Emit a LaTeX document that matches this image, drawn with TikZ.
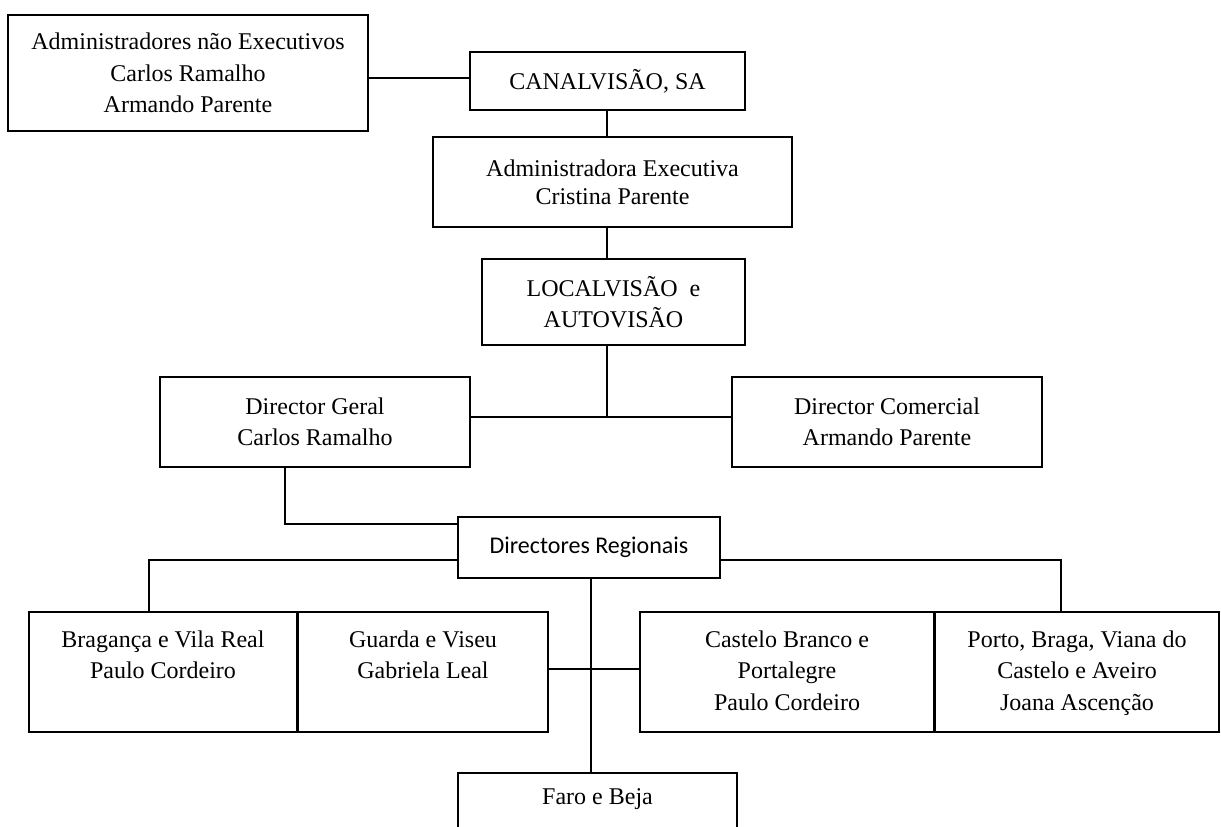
\documentclass[tikz,border=0pt]{standalone}
\usepackage{fontspec}
\setmainfont{Liberation Serif}
\setsansfont{Carlito}
\usetikzlibrary{calc}
\tikzset{
  every picture/.style={line width=1pt},
  box/.style={draw, inner sep=0pt, align=center, font=\fontsize{12}{15.75}\selectfont},
  frame/.style={draw, inner sep=0pt},
  txt/.style={inner sep=0pt, align=center, anchor=north, font=\fontsize{12}{15.75}\selectfont},
  link/.style={line width=0.9pt},
}

\begin{document}
\begin{tikzpicture}[x=0.5pt, y=-0.5pt]
  \useasboundingbox (0,0) rectangle (1221,826);
  \clip (0,0) rectangle (1221,826);
  \node[box, minimum width=180pt, minimum height=58pt] (adm) at (188,73) {Administradores não Executivos\\Carlos Ramalho\\Armando Parente};
  \node[box, minimum width=137.5pt, minimum height=29pt] (canal) at (607.5,81) {CANALVISÃO, SA};
  \node[box, minimum width=179.5pt, minimum height=45pt, font=\fontsize{12}{14}\selectfont] (exec) at (612.5,182) {Administradora Executiva\\Cristina Parente};
  \node[box, minimum width=131.5pt, minimum height=43pt] (local) at (613.5,302) {LOCALVISÃO~ e\\AUTOVISÃO};
  \node[box, minimum width=155pt, minimum height=45pt] (dg) at (315,422) {Director Geral\\Carlos Ramalho};
  \node[box, minimum width=155pt, minimum height=45pt] (dc) at (887,422) {Director Comercial\\Armando Parente};
  \node[box, minimum width=131pt, minimum height=30.5pt, font=\sffamily\fontsize{12}{15}\selectfont] (dirreg) at (589,547.5) {Directores Regionais};
  \foreach \n/\cx/\w/\t in {bv/163/134.25/{Bragança e Vila Real\\Paulo Cordeiro},
      gv/423/125.25/{Guarda e Viseu\\Gabriela Leal},
      cb/787/147.25/{Castelo Branco e\\Portalegre\\Paulo Cordeiro},
      pb/1077/142.25/{Porto, Braga, Viana do\\Castelo e Aveiro\\Joana Ascenção}} {
    \node[frame, minimum width=\w pt, minimum height=60pt] (\n) at (\cx,672) {};
    \node[txt] (\n-t) at ([yshift=-9.3pt]\n.north) {\t};
  }
  \node[frame, minimum width=139.5pt, minimum height=45pt] (faro) at (597.5,818) {};
  \node[txt] (faro-t) at ([yshift=-8pt]faro.north) {Faro e Beja};

  \coordinate (j0) at (0,78);
  \draw[link] (adm.east |- j0) -- (canal.west |- j0);
  \coordinate (v) at (607,0);
  \draw[link] (canal.south -| v) -- (exec.north -| v);
  \draw[link] (exec.south -| v) -- (local.north -| v);
  \coordinate (j1) at (607,417);
  \draw[link] (local.south -| j1) -- (j1);
  \draw[link] (dg.east |- j1) -- (dc.west |- j1);
  \coordinate (j2) at (285,524);
  \draw[link] (dg.south -| j2) -- (j2) -- (dirreg.west |- j2);
  \coordinate (j3) at (149,560);
  \coordinate (j4) at (1061,560);
  \draw[link] (dirreg.west |- j3) -- (j3) -- (j3 |- bv.north);
  \draw[link] (dirreg.east |- j4) -- (j4) -- (j4 |- pb.north);
  \coordinate (j5) at (591,669);
  \draw[link] (dirreg.south -| j5) -- (faro.north -| j5);
  \draw[link] (gv.east |- j5) -- (cb.west |- j5);
\end{tikzpicture}
\end{document}
